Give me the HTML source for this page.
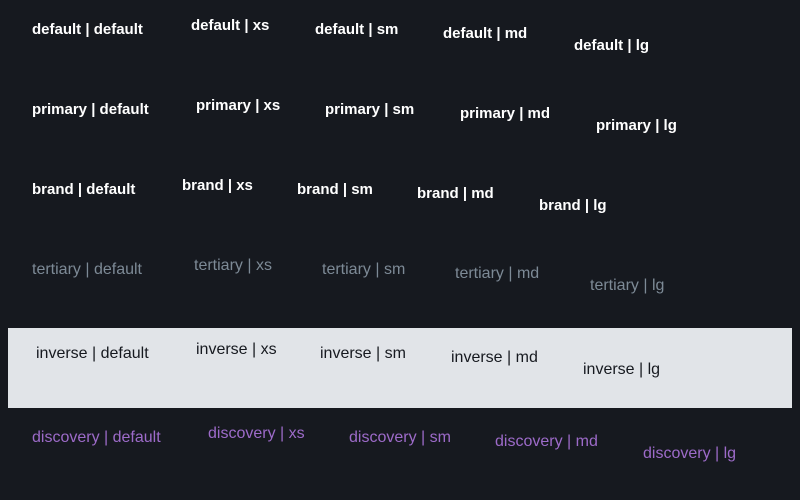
<!DOCTYPE html>
<html><head><style>
body{margin:0;width:800px;height:500px;background:#16191f;position:relative;overflow:hidden;font-family:"Liberation Sans",sans-serif;}
.t{position:absolute;font-size:16px;line-height:18px;white-space:nowrap;}
.b{font-weight:bold;color:#fff;font-size:15px;}
.ter{color:#7d8a96;}
.inv{color:#16191f;}
.dis{color:#9d6bc9;}
#box{position:absolute;left:8px;top:328px;width:784px;height:80px;background:#e1e4e8;}
</style></head><body>
<div id="box"></div>
<div class="t b" style="left:32px;top:21px">default | default</div>
<div class="t b" style="left:191px;top:17px">default | xs</div>
<div class="t b" style="left:315px;top:21px">default | sm</div>
<div class="t b" style="left:443px;top:25px">default | md</div>
<div class="t b" style="left:574px;top:37px">default | lg</div>

<div class="t b" style="left:32px;top:101px">primary | default</div>
<div class="t b" style="left:196px;top:97px">primary | xs</div>
<div class="t b" style="left:325px;top:101px">primary | sm</div>
<div class="t b" style="left:460px;top:105px">primary | md</div>
<div class="t b" style="left:596px;top:117px">primary | lg</div>

<div class="t b" style="left:32px;top:181px">brand | default</div>
<div class="t b" style="left:182px;top:177px">brand | xs</div>
<div class="t b" style="left:297px;top:181px">brand | sm</div>
<div class="t b" style="left:417px;top:185px">brand | md</div>
<div class="t b" style="left:539px;top:197px">brand | lg</div>

<div class="t ter" style="left:32px;top:261px">tertiary | default</div>
<div class="t ter" style="left:194px;top:257px">tertiary | xs</div>
<div class="t ter" style="left:322px;top:261px">tertiary | sm</div>
<div class="t ter" style="left:455px;top:265px">tertiary | md</div>
<div class="t ter" style="left:590px;top:277px">tertiary | lg</div>

<div class="t inv" style="left:36px;top:345px">inverse | default</div>
<div class="t inv" style="left:196px;top:341px">inverse | xs</div>
<div class="t inv" style="left:320px;top:345px">inverse | sm</div>
<div class="t inv" style="left:451px;top:349px">inverse | md</div>
<div class="t inv" style="left:583px;top:361px">inverse | lg</div>

<div class="t dis" style="left:32px;top:429px">discovery | default</div>
<div class="t dis" style="left:208px;top:425px">discovery | xs</div>
<div class="t dis" style="left:349px;top:429px">discovery | sm</div>
<div class="t dis" style="left:495px;top:433px">discovery | md</div>
<div class="t dis" style="left:643px;top:445px">discovery | lg</div>
</body></html>
